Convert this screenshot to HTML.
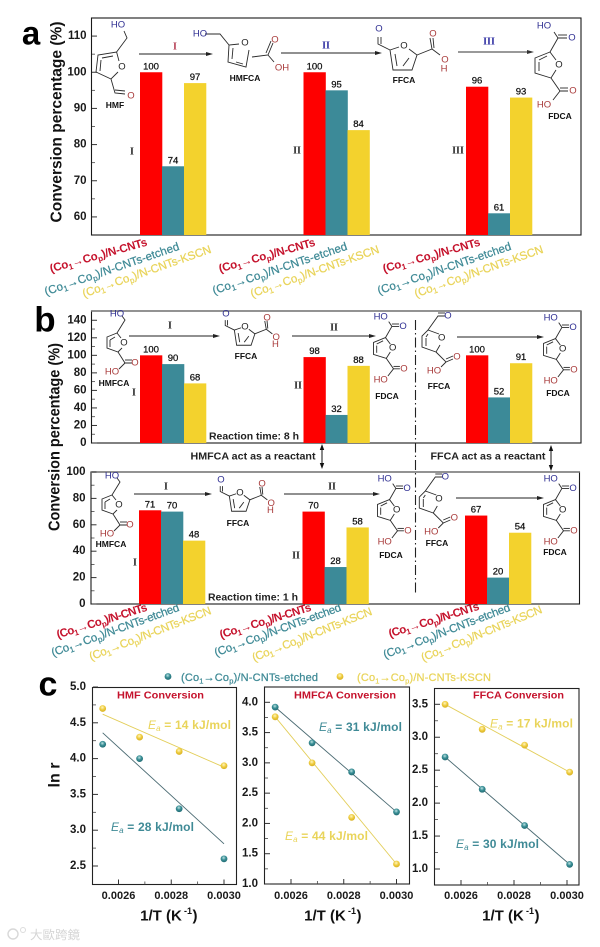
<!DOCTYPE html>
<html>
<head>
<meta charset="utf-8">
<title>Conversion percentage chart</title>
<style>
html,body{margin:0;padding:0;background:#fff;}
svg{display:block;font-family:"Liberation Sans","Noto Sans CJK SC",sans-serif;}
</style>
</head>
<body>
<svg id="chart" width="600" height="947" viewBox="0 0 600 947" xmlns="http://www.w3.org/2000/svg">
<defs>
<radialGradient id="gTeal" cx="45%" cy="35%" r="70%"><stop offset="0" stop-color="#bfe3e3"/><stop offset=".45" stop-color="#3a8f96"/><stop offset="1" stop-color="#1e666e"/></radialGradient>
<radialGradient id="gYellow" cx="45%" cy="35%" r="70%"><stop offset="0" stop-color="#fff6c0"/><stop offset=".5" stop-color="#eecb3c"/><stop offset="1" stop-color="#d3ac22"/></radialGradient>
</defs>
</svg>
<script>
// ---------- chart data ----------
const steps = ['I', 'II', 'III'];
const seriesNames = ['cnts', 'etched', 'kscn'];
const aCnts = [100, 100, 96];
const aEtched = [74, 95, 61];
const aKscn = [97, 84, 93];
const b8hCnts = [100, 98, 100];
const b8hEtched = [90, 32, 52];
const b8hKscn = [68, 88, 91];
const b1hCnts = [71, 70, 67];
const b1hEtched = [70, 28, 20];
const b1hKscn = [48, 58, 54];
const aTicks = [60, 70, 80, 90, 100, 110];
const b8hTicks = [0, 20, 40, 60, 80, 100, 120, 140];
const b1hTicks = [0, 20, 40, 60, 80, 100];
const c1Ticks = ['2.5', '3.0', '3.5', '4.0', '4.5', '5.0'];
const c2Ticks = ['1.0', '1.5', '2.0', '2.5', '3.0', '3.5', '4.0'];
const c3Ticks = ['1.0', '1.5', '2.0', '2.5', '3.0', '3.5'];
const xTicks = ['0.0026', '0.0028', '0.0030'];
const c1Temps = [0.00254, 0.00268, 0.00283, 0.00300];
const c1Etched = [4.2, 4.0, 3.3, 2.6];
const c1Kscn = [4.7, 4.3, 4.1, 3.9];
const c1EtchedFit = [4.36, 2.81];
const c1KscnFit = [4.62, 3.88];
const c2Temps = [0.00254, 0.00268, 0.00283, 0.00300];
const c2Etched = [3.92, 3.33, 2.85, 2.19];
const c2Kscn = [3.76, 3.0, 2.1, 1.33];
const c2EtchedFit = [3.92, 2.19];
const c2KscnFit = [3.76, 1.33];
const c3Temps = [0.00254, 0.00268, 0.00284, 0.00301];
const c3Etched = [2.7, 2.21, 1.66, 1.07];
const c3Kscn = [3.5, 3.12, 2.88, 2.47];
const c3EtchedFit = [2.7, 1.07];
const c3KscnFit = [3.5, 2.47];

// ---------- helpers ----------
const NS = 'http://www.w3.org/2000/svg';
const root = document.getElementById('chart');
const RED = '#fe0000', TEAL = '#3c8a98', YELLOW = '#f3d22d';
const LRED = '#c5122c', LTEAL = '#3f8a96', LYELLOW = '#e9d45a';
function mk(tag, attrs, parent) {
  const e = document.createElementNS(NS, tag);
  for (const k in attrs) e.setAttribute(k, attrs[k]);
  (parent || root).appendChild(e);
  return e;
}
function label(name, s, x, y, size, opts, parent) {
  const o = opts || {};
  const t = mk('text', {x: x, y: y, 'font-size': size, 'text-anchor': o.anchor || 'middle', 'dominant-baseline': 'central', fill: o.fill || '#111', 'font-weight': o.weight || 'normal'}, parent);
  if (o.family) t.setAttribute('font-family', o.family);
  if (o.len) { t.setAttribute('textLength', o.len); t.setAttribute('lengthAdjust', 'spacingAndGlyphs'); }
  if (o.rot) t.setAttribute('transform', 'rotate(' + o.rot + ' ' + x + ' ' + y + ')');
  t.textContent = s;
  
  
  return t;
}
function frame(name, x0, y0, x1, y1, stroke) {
  const r = mk('rect', {x: x0, y: y0, width: x1 - x0, height: y1 - y0, fill: 'none', stroke: stroke || '#1a1a1a', 'stroke-width': 1.1});
  
  
}
function linear(d0, d1, r0, r1) { return v => r0 + (v - d0) * (r1 - r0) / (d1 - d0); }
function yAxis(name, ticks, y, x0, tx, size) {
  const g = mk('g', {});
  
  
  ticks.forEach((v, i) => {
    const n = Number(v), py = y(n);
    mk('line', {x1: x0, x2: x0 + 5, y1: py, y2: py, stroke: '#333', 'stroke-width': 1}, g);
    label(name + '-tick-label', String(v), tx, py, size, {anchor: 'end', weight: 'bold', fill: '#1a1a1a'}, g);
    if (i < ticks.length - 1) {
      const m = y((n + Number(ticks[i + 1])) / 2);
      mk('line', {x1: x0, x2: x0 + 3, y1: m, y2: m, stroke: '#444', 'stroke-width': .8}, g);
    }
  });
}
function bars(panel, y, baseY, groupX, widths, values) {
  values.forEach((series, s) => {
    series.forEach((v, i) => {
      const x = groupX[i] + widths[0] * s;
      const top = y(v);
      const r = mk('rect', {x: x, y: top, width: widths[0] + .3, height: baseY - top, fill: [RED, TEAL, YELLOW][s]});
      
      
      const t = label(panel + '-value-label', String(v), x + widths[0] / 2, top - 5.5, 9.5, {fill: '#111'});
      t.setAttribute('stroke', '#111');
      t.setAttribute('stroke-width', '.25');
    });
  });
}
function rotLabel(name, tail, x1, y1Raw, x2, y2Raw, fill, weight) {
  const y1 = y1Raw + 2.5, y2 = y2Raw + 2.5;
  const len = Math.hypot(x2 - x1, y2 - y1);
  const ang = Math.atan2(y2 - y1, x2 - x1) * 180 / Math.PI;
  const t = mk('text', {x: x1, y: y1, 'font-size': 11.5, fill: fill, 'font-weight': weight, textLength: len.toFixed(1), lengthAdjust: 'spacing', transform: 'rotate(' + ang.toFixed(1) + ' ' + x1 + ' ' + y1 + ')'});
  if (weight !== 'bold') { t.setAttribute('stroke', fill); t.setAttribute('stroke-width', '.25'); }
  
  
  const parts = [['(Co', 0, 0], ['1', 2.5, 8], ['\u2192Co', -2.5, 0], ['p', 2.5, 8], [')/N-CNTs' + tail, -2.5, 0]];
  parts.forEach(p => {
    const s = mk('tspan', {dy: p[1]}, t);
    if (p[2]) s.setAttribute('font-size', p[2]);
    s.textContent = p[0];
  });
}
function labelTrio(panel, idx, c) {
  rotLabel(panel + '-category-cnts-' + idx, '', c[0], c[1], c[2], c[3], LRED, 'bold');
  rotLabel(panel + '-category-etched-' + idx, '-etched', c[4], c[5], c[6], c[7], LTEAL, 'normal');
  rotLabel(panel + '-category-kscn-' + idx, '-KSCN', c[8], c[9], c[10], c[11], LYELLOW, 'normal');
}
function arrow(name, x1, y, x2, color) {
  const g = mk('g', {});
  
  
  mk('line', {x1: x1, x2: x2 - 3, y1: y, y2: y, stroke: color || '#222', 'stroke-width': 1}, g);
  mk('polygon', {points: (x2 - 7) + ',' + (y - 2) + ' ' + x2 + ',' + y + ' ' + (x2 - 7) + ',' + (y + 2), fill: color || '#222'}, g);
}
function roman(name, s, x, y, fill) {
  label(name, s, x, y, 10, {fill: fill || '#222', weight: 'bold', family: '"Liberation Serif",serif'});
}
// Draws a structure template; s scales it about the ring oxygen (ox, oy) and moves that atom to (px, py).
function molecule(name, tmpl, s, px, py, title, tx, ty) {
  const ox = tmpl.ox === undefined ? px : tmpl.ox;
  const oy = tmpl.oy === undefined ? py : tmpl.oy;
  const g = mk('g', {transform: 'translate(' + px + ' ' + py + ') scale(' + s + ') translate(' + (-ox) + ' ' + (-oy) + ')'});
  
  
  tmpl.lines.forEach(pts => {
    mk('polyline', {points: pts.join(' '), fill: 'none', stroke: '#2a2a2a', 'stroke-width': .9 / s}, g);
  });
  tmpl.labels.forEach(l => {
    label(name + '-atom', l[0], l[1], l[2], 9.5 / s, {fill: l[3]}, g);
  });
  label(name + '-title', title, tx, ty, 8.5, {fill: '#111', weight: 'bold'});
}
const BL = '#2f2f92', RD = '#a83a3a', BK = '#222';
const HMF = {ox: 122, oy: 67, lines: [[119,61,116.6,52,98,55,96,72,111,79,118,72],[102,58,113,56],[100,71,101,60],[116.6,52,127,38,124,31],[111,79,115,93,125,94],[115,90,125,91]],
  labels: [['HO',118,25,BL],['O',122,67,BK],['O',131,96,RD]]};
const HMFCA_A = {ox: 245, oy: 43, lines: [[239,44,229,45,228,62,246,67,249,50],[233,48,232,59],[236,62,243,64],[205,34,220,34,229,45],[252,57,268,55,273,43],[266,53,271,41],[268,55,274,62]],
  labels: [['HO',200,34,BL],['O',245,43,BK],['O',275,40,RD],['OH',282,68,RD]]};
const FFCA = {ox: 404, oy: 46, lines: [[399,47,390,50,393,70,412,70,417,55,409,49],[395,54,397,66],[403,66,409,58],[390,50,378,44,378,37],[381,44,381,37],[417,55,432,49,430,38],[434,48,433,38],[432,49,440,55]],
  labels: [['O',379,29,BL],['O',404,46,BK],['O',433,34,RD],['O',445,60,RD],['H',444,69,RD]]};
const FDCA = {ox: 559, oy: 65, lines: [[556,60,550,52,535,58,535,73,551,78,556,70],[539,60,547,56],[539,71,539,62],[550,52,558,38,567,38],[558,35,567,35],[558,38,554,32],[551,78,560,91,568,91],[560,88,568,88],[560,91,553,100]],
  labels: [['HO',544,26,BL],['O',572,38,BL],['O',559,65,BK],['O',573,91,RD],['HO',544,105,RD]]};
const HMFCA_B = {ox: 124, oy: 343, lines: [[121,338,117,333,107,337,107,348,118,352,122,348],[110,340,115,337],[110,347,110,340],[117,333,125,320,122,316],[118,352,125,363,132,363],[125,360,132,360],[125,363,119,369]],
  labels: [['HO',117,314,BL],['O',124,343,BK],['O',135,363,RD],['HO',112,372,RD]]};
const FFCA_C = {ox: 441.7, oy: 338, lines: [[439,334,428,330,422,336,422,347,436,352,440,345],[426,337,428,334],[426,346,426,338],[428,330,438,316,445,316],[438,313,445,313],[436,352,446,362,453,359],[446,359,453,356],[446,362,441,367]],
  labels: [['O',448,316,BL],['O',441.7,338,BK],['O',457,357,RD],['HO',434,371,RD]]};

// ---------- panel a ----------
label('panel-a-letter', 'a', 31, 33, 33, {weight: 'bold', fill: '#000'});
frame('panel-a-frame', 91.5, 18, 581, 235);
const yA = linear(55, 115, 235, 18);
yAxis('panel-a-y-axis', aTicks, yA, 92, 86.5, 11.5);
bars('panel-a', yA, 235, [140, 303.5, 466], [22], [aCnts, aEtched, aKscn]);
label('panel-a-y-axis-title', 'Conversion percentage (%)', 57, 122, 16, {weight: 'bold', rot: -90, len: 201, fill: '#111'});
molecule('hmf-structure', HMF, 1, 122, 67, 'HMF', 115, 105);
molecule('hmfca-structure', HMFCA_A, 1, 245, 43, 'HMFCA', 245, 78);
molecule('ffca-structure', FFCA, 1, 404, 46, 'FFCA', 404, 80);
molecule('fdca-structure', FDCA, 1, 559, 65, 'FDCA', 560, 116);
arrow('panel-a-arrow-1', 139, 54, 213);
arrow('panel-a-arrow-2', 281, 53, 382);
arrow('panel-a-arrow-3', 458, 52, 534, '#333');
roman('panel-a-step-label-1', 'I', 175, 47, '#b33a50');
roman('panel-a-step-label-2', 'II', 326, 46, '#2a2aa0');
roman('panel-a-step-label-3', 'III', 489, 42, '#2a2aa0');
roman('panel-a-bar-step-1', 'I', 132, 152);
roman('panel-a-bar-step-2', 'II', 297, 151);
roman('panel-a-bar-step-3', 'III', 458, 151);
labelTrio('panel-a', 1, [51, 270, 148, 243, 46, 293, 180, 247, 84, 295, 212, 250]);
labelTrio('panel-a', 2, [220, 270, 316, 243, 214, 292, 348, 247, 252, 295, 380, 250]);
labelTrio('panel-a', 3, [384, 270, 481, 243, 379, 292, 512, 247, 416, 295, 544, 250]);

// ---------- panel b ----------
label('panel-b-letter', 'b', 45, 320, 35, {weight: 'bold', fill: '#000'});
frame('panel-b-8h-frame', 91.5, 311, 581, 443);
mk('line', {x1: 91, x2: 581, y1: 311, y2: 311, stroke: '#777', 'stroke-width': 1.6});
const yB8 = linear(0, 150, 443, 311.5);
yAxis('panel-b-8h-y-axis', b8hTicks, yB8, 92, 86.5, 11.5);
bars('panel-b-8h', yB8, 443, [140, 303.5, 466], [22], [b8hCnts, b8hEtched, b8hKscn]);
frame('panel-b-1h-frame', 91, 472, 579.5, 604);
mk('line', {x1: 91, x2: 580, y1: 472, y2: 472, stroke: '#777', 'stroke-width': 1.6});
const yB1 = linear(0, 100, 604, 472);
yAxis('panel-b-1h-y-axis', b1hTicks, yB1, 91.5, 85.5, 11.5);
bars('panel-b-1h', yB1, 604, [139, 302.5, 465], [22], [b1hCnts, b1hEtched, b1hKscn]);
label('panel-b-y-axis-title', 'Conversion percentage (%)', 55, 437, 15.5, {weight: 'bold', rot: -90, len: 188, fill: '#111'});

molecule('b-8h-hmfca-structure', HMFCA_B, 1, 124, 343, 'HMFCA', 114, 383);
molecule('b-8h-ffca-structure', FFCA, .76, 245, 327, 'FFCA', 246, 356);
molecule('b-8h-fdca-structure', FDCA, .8, 392.7, 348, 'FDCA', 387, 396);
molecule('b-8h-reactant-ffca-structure', FFCA_C, 1, 441.7, 338, 'FFCA', 439, 386);
molecule('b-8h-product-fdca-structure', FDCA, .8, 562.7, 349, 'FDCA', 558, 393);
molecule('b-1h-hmfca-structure', HMFCA_B, 1, 119, 505, 'HMFCA', 111, 544);
molecule('b-1h-ffca-structure', FFCA, .76, 240, 493, 'FFCA', 238, 523);
molecule('b-1h-fdca-structure', FDCA, .8, 396.7, 510, 'FDCA', 391, 555);
molecule('b-1h-reactant-ffca-structure', FFCA_C, 1, 439, 499, 'FFCA', 437, 543);
molecule('b-1h-product-fdca-structure', FDCA, .8, 562.7, 510, 'FDCA', 555, 552);

arrow('panel-b-8h-arrow-1', 129, 336, 220);
arrow('panel-b-8h-arrow-2', 292, 336, 376);
arrow('panel-b-8h-arrow-3', 457, 337, 544);
arrow('panel-b-1h-arrow-1', 134, 494, 212);
arrow('panel-b-1h-arrow-2', 284, 494, 380);
arrow('panel-b-1h-arrow-3', 456, 498, 544);
roman('panel-b-8h-step-1', 'I', 170, 326);
roman('panel-b-8h-step-2', 'II', 334, 328);
roman('panel-b-8h-bar-step-1', 'I', 134, 393);
roman('panel-b-8h-bar-step-2', 'II', 298, 386);
roman('panel-b-1h-step-1', 'I', 166, 487);
roman('panel-b-1h-step-2', 'II', 332, 487);
roman('panel-b-1h-bar-step-1', 'I', 135, 563);
roman('panel-b-1h-bar-step-2', 'II', 296, 556);
label('reaction-time-8h', 'Reaction time: 8 h', 254, 436.5, 10.5, {weight: 'bold', fill: '#222', len: 90});
label('reaction-time-1h', 'Reaction time: 1 h', 253, 597.5, 10.5, {weight: 'bold', fill: '#222', len: 90});
label('hmfca-reactant-note', 'HMFCA act as a reactant', 253, 456.5, 10.5, {weight: 'bold', fill: '#222', len: 125});
label('ffca-reactant-note', 'FFCA act as a reactant', 488, 456.5, 10.5, {weight: 'bold', fill: '#222', len: 115});
function doubleArrow(name, x, y1, y2) {
  const g = mk('g', {});
  
  
  mk('line', {x1: x, x2: x, y1: y1 + 3, y2: y2 - 3, stroke: '#111', 'stroke-width': 1}, g);
  mk('polygon', {points: (x - 2.2) + ',' + (y1 + 6) + ' ' + x + ',' + y1 + ' ' + (x + 2.2) + ',' + (y1 + 6), fill: '#111'}, g);
  mk('polygon', {points: (x - 2.2) + ',' + (y2 - 6) + ' ' + x + ',' + y2 + ' ' + (x + 2.2) + ',' + (y2 - 6), fill: '#111'}, g);
}
doubleArrow('hmfca-double-arrow', 322, 444, 469);
doubleArrow('ffca-double-arrow', 551, 445, 471);
const divider = mk('line', {x1: 415.5, x2: 415.5, y1: 320, y2: 594, stroke: '#222', 'stroke-width': 1.1, 'stroke-dasharray': '10 3 1.5 3'});


labelTrio('panel-b', 1, [58, 636, 148, 608, 53, 654, 180, 608, 91, 658, 212, 611]);
labelTrio('panel-b', 2, [221, 636, 312, 608, 216, 654, 342, 608, 254, 659, 373, 612]);
labelTrio('panel-b', 3, [390, 635, 480, 607, 385, 656, 511, 608, 423, 659, 543, 610]);

// ---------- panel c ----------
label('panel-c-letter', 'c', 48, 684.5, 34, {weight: 'bold', fill: '#000'});
function dot(name, x, y, fillId) {
  const c = mk('circle', {cx: x, cy: y, r: 3.4, fill: 'url(#' + fillId + ')'});
  
  
}
function legendText(name, tail, x, y, len, fill) {
  const t = mk('text', {x: x, y: y, 'font-size': 11, fill: fill, stroke: fill, 'stroke-width': .25, textLength: len, lengthAdjust: 'spacing'});
  
  
  [['(Co', 0, 0], ['1', 2.5, 7.5], ['\u2192Co', -2.5, 0], ['p', 2.5, 7.5], [')/N-CNTs' + tail, -2.5, 0]].forEach(p => {
    const s = mk('tspan', {dy: p[1]}, t);
    if (p[2]) s.setAttribute('font-size', p[2]);
    s.textContent = p[0];
  });
}
dot('legend-marker-etched', 168, 676.5, 'gTeal');
legendText('legend-entry-etched', '-etched', 181, 681, 137, LTEAL);
dot('legend-marker-kscn', 340, 676.5, 'gYellow');
legendText('legend-entry-kscn', '-KSCN', 357, 681, 134, LYELLOW);

function kinetics(p) {
  const x = linear(0.0026, 0.0030, p.xa, p.xb);
  const y = linear(p.d0, p.d1, p.r0, p.r1);
  frame(p.name + '-frame', p.x0, p.y0, p.x1, p.y1, '#222');
  yAxis(p.name + '-y-axis', p.ticks, y, p.x0 + .5, p.tx, 11.5);
  xTicks.forEach((v, i) => {
    const px = x(Number(v));
    mk('line', {x1: px, x2: px, y1: p.y1, y2: p.y1 - 5, stroke: '#333', 'stroke-width': 1});
    label(p.name + '-x-tick-label', v, px, 896, 11, {weight: 'bold', fill: '#1a1a1a'});
    if (i < xTicks.length - 1) {
      const m = x((Number(v) + Number(xTicks[i + 1])) / 2);
      mk('line', {x1: m, x2: m, y1: p.y1, y2: p.y1 - 3, stroke: '#444', 'stroke-width': .8});
    }
  });
  const last = p.temps.length - 1;
  [[p.kscnFit, '#e3ce5a', 'kscn'], [p.etchedFit, '#4a6a72', 'etched']].forEach(s => {
    const l = mk('line', {x1: x(p.temps[0]), y1: y(s[0][0]), x2: x(p.temps[last]), y2: y(s[0][1]), stroke: s[1], 'stroke-width': .9});
    
    
  });
  p.etched.forEach((v, i) => dot(p.name + '-point-etched', x(p.temps[i]), y(v), 'gTeal'));
  p.kscn.forEach((v, i) => dot(p.name + '-point-kscn', x(p.temps[i]), y(v), 'gYellow'));
  label(p.name + '-title', p.title, p.tc, 695.5, 10.5, {weight: 'bold', fill: LRED, len: p.tl});
  label(p.name + '-x-axis-title', '1/T (K', p.xt - 12, 916, 15, {weight: 'bold', fill: '#111'});
  label(p.name + '-x-axis-exponent', '-1', p.xt + 15, 911, 9, {weight: 'bold', fill: '#111'});
  label(p.name + '-x-axis-close', ')', p.xt + 22, 916, 15, {weight: 'bold', fill: '#111'});
}
function activation(name, value, x, y, fill) {
  const t = mk('text', {x: x, y: y, 'font-size': 12, 'font-weight': 'bold', fill: fill, textLength: 83, lengthAdjust: 'spacing'});
  
  
  const e = mk('tspan', {'font-style': 'italic', 'font-weight': 'normal'}, t);
  e.textContent = 'E';
  const a = mk('tspan', {'font-style': 'italic', 'font-weight': 'normal', 'font-size': 8, dy: 2}, t);
  a.textContent = 'a';
  const r = mk('tspan', {dy: -2}, t);
  r.textContent = ' = ' + value;
}
kinetics({name: 'hmf-plot', title: 'HMF Conversion', tc: 160.5, tl: 87, x0: 92.5, x1: 236.5, y0: 687.5, y1: 884.5, xa: 118.5, xb: 224, d0: 2.5, d1: 5, r0: 866, r1: 687, ticks: c1Ticks, tx: 86, temps: c1Temps, etched: c1Etched, kscn: c1Kscn, etchedFit: c1EtchedFit, kscnFit: c1KscnFit, xt: 173});
kinetics({name: 'hmfca-plot', title: 'HMFCA Conversion', tc: 345, tl: 102, x0: 264.5, x1: 409.5, y0: 687, y1: 884, xa: 291, xb: 396.5, d0: 1, d1: 4, r0: 884, r1: 702.3, ticks: c2Ticks, tx: 258, temps: c2Temps, etched: c2Etched, kscn: c2Kscn, etchedFit: c2EtchedFit, kscnFit: c2KscnFit, xt: 337});
kinetics({name: 'ffca-plot', title: 'FFCA Conversion', tc: 518.5, tl: 91, x0: 434.5, x1: 579, y0: 688.5, y1: 885, xa: 461, xb: 567, d0: 1, d1: 3.5, r0: 869, r1: 704.3, ticks: c3Ticks, tx: 428, temps: c3Temps, etched: c3Etched, kscn: c3Kscn, etchedFit: c3EtchedFit, kscnFit: c3KscnFit, xt: 515});
label('panel-c-y-axis-title', 'ln r', 55, 775, 16, {weight: 'bold', rot: -90, fill: '#111'});
activation('hmf-ea-kscn', '14 kJ/mol', 148, 729, LYELLOW);
activation('hmf-ea-etched', '28 kJ/mol', 111, 831, LTEAL);
activation('hmfca-ea-etched', '31 kJ/mol', 319, 731, LTEAL);
activation('hmfca-ea-yellow', '44 kJ/mol', 285, 840, LYELLOW);
activation('ffca-ea-kscn', '17 kJ/mol', 490, 727.5, LYELLOW);
activation('ffca-ea-etched', '30 kJ/mol', 456, 848, LTEAL);

// ---------- watermark ----------
const wmIcon = mk('circle', {cx: 13, cy: 934, r: 5, fill: 'none', stroke: '#d8d8d8', 'stroke-width': 1.4});


const wmDot = mk('circle', {cx: 23, cy: 930, r: 2.5, fill: 'none', stroke: '#dcdcdc', 'stroke-width': 1});


label('watermark-text', '大歐跨鏡', 55, 934.5, 12, {fill: '#d5d5d5', len: 50, family: '"Noto Sans CJK SC",sans-serif'});
</script>
</body>
</html>
